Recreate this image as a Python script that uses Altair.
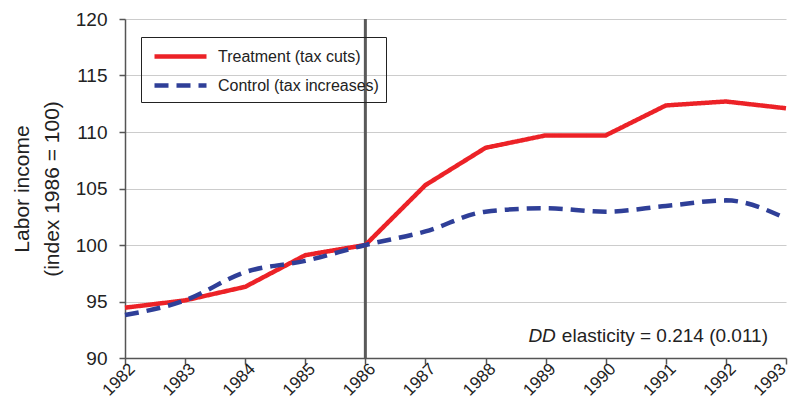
import altair as alt
import pandas as pd

years = list(range(1982, 1994))
treatment = [94.45, 95.1, 96.3, 99.1, 100.0, 105.3, 108.6, 109.7, 109.7, 112.35, 112.7, 112.1]
control = [93.8, 95.1, 97.6, 98.6, 100.0, 101.2, 102.95, 103.25, 102.95, 103.45, 103.95, 102.35]
series_names = ["Treatment (tax cuts)", "Control (tax increases)"]
series_colors = ["#EC2227", "#2F3F98"]
series_dash = [[1, 0], [14, 8]]
y_ticks = [90, 95, 100, 105, 110, 115, 120]
event_year = [1986]

rows = []
for yr, t, c in zip(years, treatment, control):
    rows.append({"year": yr, "value": t, "series": series_names[0]})
    rows.append({"year": yr, "value": c, "series": series_names[1]})
df = pd.DataFrame(rows)

FONT = "Liberation Sans"

x_enc = alt.X("year:Q",
              scale=alt.Scale(domain=[1982, 1993], nice=False, zero=False),
              axis=alt.Axis(values=years, format="d", title=None, grid=False,
                            labelAngle=-45, labelAlign="right", labelBaseline="middle",
                            labelFontSize=17, labelPadding=2,
                            labelOffset={"condition": {"test": "datum.value == 1993", "value": -3},
                                         "value": 7},
                            tickSize=6))
y_enc = alt.Y("value:Q",
              scale=alt.Scale(domain=[90, 120], nice=False, zero=False),
              axis=alt.Axis(values=y_ticks, title=["Labor income", "(index 1986 = 100)"],
                            titleFontSize=21, titleFontWeight="normal", titlePadding=13,
                            titleLineHeight=30,
                            titleColor="#222222", labelFontSize=19, labelPadding=12,
                            tickSize=6, grid=True))

legend_opts = dict(title=None, orient="none", legendX=16, legendY=18,
                   symbolType="M-0.6,0H4.6", symbolSize=400,
                   symbolStrokeWidth=4.5, labelFontSize=16, labelLimit=400,
                   labelOffset=45, padding=7, rowPadding=7,
                   strokeColor="#222222", labelColor="#222222",
                   labelFont=FONT)
color_enc = alt.Color("series:N", scale=alt.Scale(domain=series_names, range=series_colors),
                      legend=alt.Legend(**legend_opts))
dash_enc = alt.StrokeDash("series:N", scale=alt.Scale(domain=series_names, range=series_dash),
                          legend=alt.Legend(**legend_opts))

rule = alt.Chart(pd.DataFrame({"year": event_year})).mark_rule(
    color="#5a5a5a", strokeWidth=3).encode(x=alt.X("year:Q"))

treat_line = alt.Chart(df).transform_filter(
    alt.datum.series == series_names[0]).mark_line(strokeWidth=4.5).encode(
    x=x_enc, y=y_enc, color=color_enc, strokeDash=dash_enc)
ctrl_line = alt.Chart(df).transform_filter(
    alt.datum.series == series_names[1]).mark_line(strokeWidth=4.5, interpolate="monotone").encode(
    x=x_enc, y=y_enc, color=color_enc, strokeDash=dash_enc)

ann_df = pd.DataFrame({"x1": [1989.17], "x2": [1989.27], "y": [91.45],
                       "t1": ["DD"], "t2": ["elasticity = 0.214 (0.011)"]})
ann1 = alt.Chart(ann_df).mark_text(align="right", baseline="alphabetic", fontSize=19,
                                   fontStyle="italic", font=FONT, color="#222222").encode(
    x="x1:Q", y="y:Q", text="t1:N")
ann2 = alt.Chart(ann_df).mark_text(align="left", baseline="alphabetic", fontSize=19,
                                   font=FONT, color="#222222").encode(
    x="x2:Q", y="y:Q", text="t2:N")

chart = alt.layer(rule, treat_line, ctrl_line, ann1, ann2).properties(
    width=661, height=339,
    autosize=alt.AutoSizeParams(type="none"),
    padding={"left": 117, "top": 11, "right": 5, "bottom": 43},
).configure_view(stroke=None).configure_axis(
    labelFont=FONT, titleFont=FONT, labelColor="#222222",
    domainColor="#555555", tickColor="#555555", domainWidth=1.5, tickWidth=1.5,
    gridColor="#cccccc", gridWidth=1.2,
).configure_legend(labelFont=FONT)

chart.save("out.html", embed_options={"renderer": "svg", "actions": False})
